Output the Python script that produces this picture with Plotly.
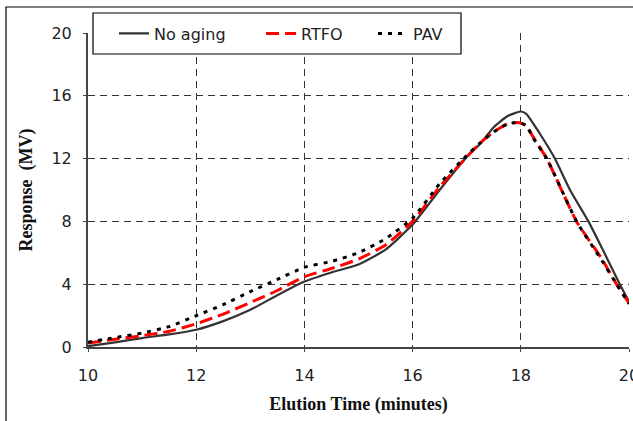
import plotly.graph_objects as go

# ---- data ----
x_noaging = [10, 10.5, 11, 11.5, 12, 12.5, 13, 13.5, 14, 14.5, 15, 15.5, 16, 16.5, 17, 17.25, 17.5, 17.75, 18, 18.1, 18.35, 18.63, 18.91, 19.25, 19.5, 19.83, 20]
y_noaging = [0.05, 0.3, 0.57, 0.8, 1.1, 1.65, 2.37, 3.3, 4.17, 4.75, 5.25, 6.2, 7.8, 10.0, 12.1, 12.95, 14.0, 14.7, 15.0, 14.85, 13.6, 12.0, 10.0, 8.0, 6.3, 4.0, 2.9]

x_rtfo = [10, 10.5, 11, 11.5, 12, 12.5, 13, 13.5, 14, 14.5, 15, 15.5, 16, 16.5, 17, 17.25, 17.5, 17.75, 17.95, 18.1, 18.23, 18.48, 19.03, 19.5, 19.77, 20]
y_rtfo = [0.25, 0.5, 0.72, 1.0, 1.48, 2.1, 2.83, 3.6, 4.48, 5.0, 5.6, 6.5, 8.0, 10.2, 12.1, 13.0, 13.7, 14.2, 14.3, 14.1, 13.37, 12.0, 8.0, 5.6, 4.0, 2.8]

x_pav = [10, 10.5, 11, 11.5, 12, 12.5, 13, 13.5, 14, 14.5, 15, 15.5, 16, 16.5, 17, 17.25, 17.5, 17.75, 17.95, 18.1, 18.23, 18.48, 19.03, 19.5, 19.77, 20]
y_pav = [0.3, 0.6, 0.89, 1.3, 1.99, 2.7, 3.53, 4.3, 5.08, 5.45, 6.0, 6.9, 8.2, 10.4, 12.2, 13.0, 13.7, 14.2, 14.3, 14.1, 13.3, 12.0, 8.0, 5.5, 4.0, 2.75]

x_ticks = [10, 12, 14, 16, 18, 20]
y_ticks = [0, 4, 8, 12, 16, 20]

series_names = ["No aging", "RTFO", "PAV"]
NB = "\u00a0"

fig = go.Figure()
fig.add_trace(go.Scatter(x=x_noaging, y=y_noaging, mode="lines", name=series_names[0] + NB * 6,
                         line=dict(color="#333333", width=2.2, shape="spline", smoothing=0.5)))
fig.add_trace(go.Scatter(x=x_rtfo, y=y_rtfo, mode="lines", name=series_names[1] + NB * 5,
                         line=dict(color="#ff0000", width=3, dash="13px,6px", shape="spline", smoothing=0.5)))
fig.add_trace(go.Scatter(x=x_pav, y=y_pav, mode="lines", name=series_names[2],
                         line=dict(color="#000000", width=3, dash="4px,6px", shape="spline", smoothing=0.5)))

W, H = 633, 421
L, R, T, B = 88, 4, 33, 74
pw, ph = W - L - R, H - T - B

def px2paper(px, py):
    return (px - L) / pw, 1 - (py - T) / ph

# outer border
x0, y0 = px2paper(6, 7)
x1, y1 = px2paper(660, 440)
# legend box
lx0, ly0 = px2paper(93, 13)
lx1, ly1 = px2paper(461, 54)
legx, _ = px2paper(114, 0)

fig.update_layout(
    width=W, height=H,
    margin=dict(l=L, r=R, t=T, b=B, autoexpand=False),
    paper_bgcolor="white", plot_bgcolor="white",
    font=dict(family="DejaVu Sans", size=16, color="#222222"),
    showlegend=True,
    legend=dict(orientation="h", x=legx, y=(ly0 + ly1) / 2,
                xanchor="left", yanchor="middle",
                bgcolor="rgba(0,0,0,0)", borderwidth=0,
                font=dict(family="DejaVu Sans", size=16, color="#222222"),
                itemwidth=30),
    shapes=[
        dict(type="rect", xref="paper", yref="paper", x0=x0, y0=y1, x1=x1, y1=y0,
             line=dict(color="black", width=1.2), fillcolor="rgba(0,0,0,0)", layer="below"),
        dict(type="rect", xref="paper", yref="paper", x0=lx0, y0=ly1, x1=lx1, y1=ly0,
             line=dict(color="black", width=1.2), fillcolor="white", layer="above"),
    ],
)

fig.update_xaxes(range=[10, 20], tickvals=x_ticks, ticktext=[str(v) for v in x_ticks],
                 showgrid=True, gridcolor="#333333", griddash="7px,5px", gridwidth=1,
                 showline=True, linecolor="#444444", linewidth=2,
                 ticks="outside", ticklen=3, tickcolor="#444444",
                 tickfont=dict(family="DejaVu Sans", size=16, color="#222222"),
                 ticklabelstandoff=10, ticklabeloverflow="allow",
                 zeroline=False,
                 title=dict(text="<b>Elution Time (minutes)</b>", standoff=13,
                            font=dict(family="Liberation Serif", size=18, color="#111111")))
fig.update_yaxes(range=[0, 20], tickvals=y_ticks, ticktext=[str(v) for v in y_ticks],
                 showgrid=True, gridcolor="#333333", griddash="7px,5px", gridwidth=1,
                 showline=True, linecolor="#444444", linewidth=2,
                 ticks="outside", ticklen=3, tickcolor="#444444",
                 tickfont=dict(family="DejaVu Sans", size=16, color="#222222"),
                 ticklabelstandoff=8,
                 zeroline=False,
                 title=dict(text="<b>Response  (MV)</b>", standoff=14,
                            font=dict(family="Liberation Serif", size=18, color="#111111")))

fig.write_html("out.html", config={"displayModeBar": False},
               post_script="document.body.style.margin='0px';")
